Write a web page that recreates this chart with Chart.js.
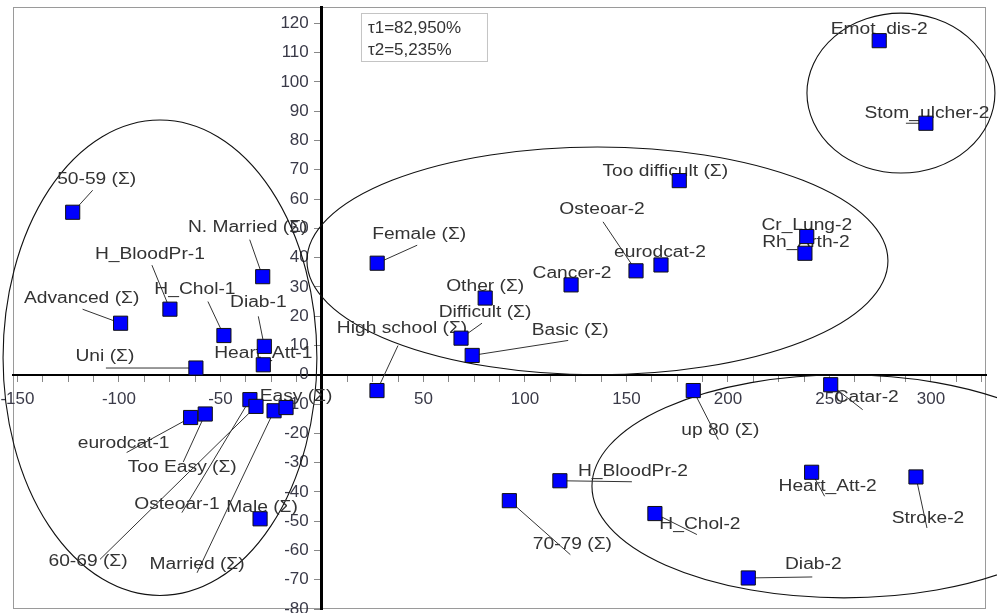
<!DOCTYPE html>
<html>
<head>
<meta charset="utf-8">
<script src="https://cdn.jsdelivr.net/npm/chart.js@4.4.0/dist/chart.umd.min.js"></script>
<style>
  html, body { margin: 0; padding: 0; background: #fff; }
  #wrap { width: 997px; height: 613px; }
</style>
</head>
<body>
<div id="wrap"><canvas id="caChart" width="997" height="613"></canvas></div>
<script>
// categories of the correspondence map
const categories = [
  '50-59 (Σ)', 'H_BloodPr-1', 'Advanced (Σ)', 'H_Chol-1', 'N. Married (Σ)', 'Diab-1',
  'Heart_Att-1', 'Uni (Σ)', 'eurodcat-1', 'Too Easy (Σ)', 'Osteoar-1', '60-69 (Σ)',
  'Married (Σ)', 'Easy (Σ)', 'Male (Σ)', 'Female (Σ)', 'Other (Σ)', 'Difficult (Σ)',
  'Basic (Σ)', 'High school (Σ)', 'Cancer-2', 'Osteoar-2', 'eurodcat-2', 'Too difficult (Σ)',
  'Cr_Lung-2', 'Rh_Arth-2', 'Emot_dis-2', 'Stom_ulcher-2', 'Catar-2', 'up 80 (Σ)',
  'H_BloodPr-2', '70-79 (Σ)', 'H_Chol-2', 'Heart_Att-2', 'Stroke-2', 'Diab-2'
];
// first axis coordinate
const dim1 = [
  -122.8, -74.9, -99.2, -48.3, -29.2, -28.4,
  -28.9, -62.1, -64.7, -57.5, -35.5, -32.5,
  -23.6, -17.7, -30.5, 27.2, 80.4, 68.5,
  74.0, 27.1, 122.7, 154.7, 167.0, 176.0,
  238.8, 237.9, 274.5, 297.5, 250.6, 182.9,
  117.2, 92.3, 164.0, 241.2, 292.6, 210.0
];
// second axis coordinate
const dim2 = [
  55.5, 22.4, 17.6, 13.4, 33.5, 9.7,
  3.4, 2.3, -14.6, -13.4, -8.5, -10.8,
  -12.3, -11.2, -49.2, 38.1, 26.2, 12.5,
  6.6, -5.4, 30.7, 35.5, 37.5, 66.3,
  47.2, 41.5, 114.1, 85.9, -3.4, -5.4,
  -36.2, -43.0, -47.4, -33.3, -34.9, -69.4
];
const inertiaText = ['τ1=82,950%', 'τ2=5,235%'];

// label placement: [text dx, text dy, leader end dx, leader end dy] in px from the marker
const labelOffsets = [
  [24, -33, 20, -22], [-20, -55, -18, -44], [-39, -25, -38, -14], [-29, -46, -16, -34],
  [-15, -49, -13, -37], [-6, -44, -6, -30], [0, -11, null, null], [-91, -11, -90, 0],
  [-67, 26, -64, 35], [-23, 54, -22, 48], [-73, 105, -68, 113], [-168, 155, -156, 153],
  [-77, 154, -77, 162], [10, -11, null, null], [2, -11, null, null], [42, -29, 40, -18],
  [0, -11, null, null], [24, -26, 21, -15], [98, -25, 96, -15], [25, -62, 21, -45],
  [1, -11, null, null], [-34, -61, -33, -49], [-1, -12, null, null], [-14, -9, null, null],
  [0, -11, null, null], [1, -11, null, null], [0, -11, null, null], [1, -10, -20, 0],
  [36, 13, 32, 25], [27, 40, 25, 49], [73, -9, 72, 1], [63, 44, 61, 54],
  [45, 11, 42, 21], [16, 14, 13, 24], [12, 42, 11, 51], [65, -13, 64, -1]
];

// cluster ellipses in axis units
const clusters = [
  { cx: -79.8, cy: 5.8, rx: 77.3, ry: 81.2 },
  { cx: 135.7, cy: 38.9, rx: 143.1, ry: 38.9 },
  { cx: 285.2, cy: 96.2, rx: 46.3, ry: 27.3 },
  { cx: 257.1, cy: -38.1, rx: 124.1, ry: 38.1 }
];

const points = dim1.map((v, i) => ({ x: v, y: dim2[i] }));

// keep tick label overhang from shrinking the plot frame
function noPadding(scale) {
  scale.paddingLeft = 0;
  scale.paddingRight = 0;
  scale.paddingTop = 0;
  scale.paddingBottom = 0;
}

const mapDecor = {
  id: 'mapDecor',
  beforeDraw(chart) {
    const { ctx, chartArea: a } = chart;
    ctx.save();
    ctx.strokeStyle = '#9a9a9a';
    ctx.lineWidth = 1;
    ctx.strokeRect(a.left + 0.5, a.top + 0.5, a.width - 1, a.height - 1);
    ctx.restore();
  },
  beforeDatasetsDraw(chart) {
    const { ctx, chartArea: a, scales: { x, y } } = chart;
    ctx.save();
    // ellipses
    ctx.strokeStyle = '#111';
    ctx.lineWidth = 1.1;
    clusters.forEach(e => {
      const cx = x.getPixelForValue(e.cx), cy = y.getPixelForValue(e.cy);
      const rx = Math.abs(x.getPixelForValue(e.cx + e.rx) - cx);
      const ry = Math.abs(y.getPixelForValue(e.cy + e.ry) - cy);
      ctx.beginPath();
      ctx.ellipse(cx, cy, rx, ry, 0, 0, Math.PI * 2);
      ctx.stroke();
    });
    // leaders and labels
    const meta = chart.getDatasetMeta(0);
    ctx.font = '16px "Liberation Sans", Arial, sans-serif';
    ctx.textAlign = 'center';
    ctx.textBaseline = 'middle';
    meta.data.forEach((pt, i) => {
      const off = labelOffsets[i];
      if (off[2] !== null) {
        ctx.strokeStyle = '#333';
        ctx.lineWidth = 1;
        ctx.beginPath();
        ctx.moveTo(pt.x, pt.y);
        ctx.lineTo(pt.x + off[2], pt.y + off[3]);
        ctx.stroke();
      }
      ctx.save();
      ctx.translate(pt.x + off[0], pt.y + off[1]);
      ctx.scale(1.2, 1);
      ctx.fillStyle = '#333';
      ctx.fillText(categories[i], 0, 0);
      ctx.restore();
    });
    // inertia box
    const bx = x.getPixelForValue(0) + 39, by = a.top + 6;
    ctx.fillStyle = '#fff';
    ctx.fillRect(bx, by, 126, 48);
    ctx.strokeStyle = '#c4c4c4';
    ctx.lineWidth = 1;
    ctx.strokeRect(bx + 0.5, by + 0.5, 126, 48);
    ctx.fillStyle = '#333';
    ctx.textAlign = 'left';
    ctx.font = '17px "Liberation Sans", Arial, sans-serif';
    ctx.fillText(inertiaText[0], bx + 7, by + 15);
    ctx.fillText(inertiaText[1], bx + 7, by + 37);
    ctx.restore();
  }
};

new Chart(document.getElementById('caChart'), {
  type: 'scatter',
  data: {
    datasets: [{
      data: points,
      pointStyle: 'rect',
      pointRadius: 10,
      pointHoverRadius: 10,
      backgroundColor: '#0000ff',
      borderColor: '#111',
      borderWidth: 1
    }]
  },
  options: {
    responsive: false,
    animation: false,
    layout: { autoPadding: false, padding: { left: 13, right: 11, top: 7, bottom: 4 } },
    plugins: { legend: { display: false }, tooltip: { enabled: false } },
    scales: {
      x: {
        type: 'linear',
        position: { y: 0 },
        min: -152.2,
        max: 327.1,
        afterFit: noPadding,
        border: { color: '#000', width: 2 },
        grid: { drawOnChartArea: false, drawTicks: true, tickLength: 6, tickColor: '#888' },
        ticks: {
          stepSize: 12.5,
          autoSkip: false,
          includeBounds: false,
          maxRotation: 0,
          padding: 8,
          color: '#3a3a48',
          font: { family: '"Liberation Sans", Arial, sans-serif', size: 17 },
          callback: v => (v !== 0 && v % 50 === 0) ? String(v) : ''
        }
      },
      y: {
        type: 'linear',
        position: { x: 0 },
        min: -80,
        max: 125.6,
        afterFit: noPadding,
        border: { color: '#000', width: 3 },
        grid: { drawOnChartArea: false, drawTicks: true, tickLength: 6, tickColor: '#888' },
        ticks: {
          stepSize: 10,
          autoSkip: false,
          includeBounds: false,
          color: '#3a3a48',
          font: { family: '"Liberation Sans", Arial, sans-serif', size: 17 },
          // labels sit flush on a centred axis, so pad them with trailing space
          callback: v => v + '\u2002 '
        }
      }
    }
  },
  plugins: [mapDecor]
});
</script>
</body>
</html>
